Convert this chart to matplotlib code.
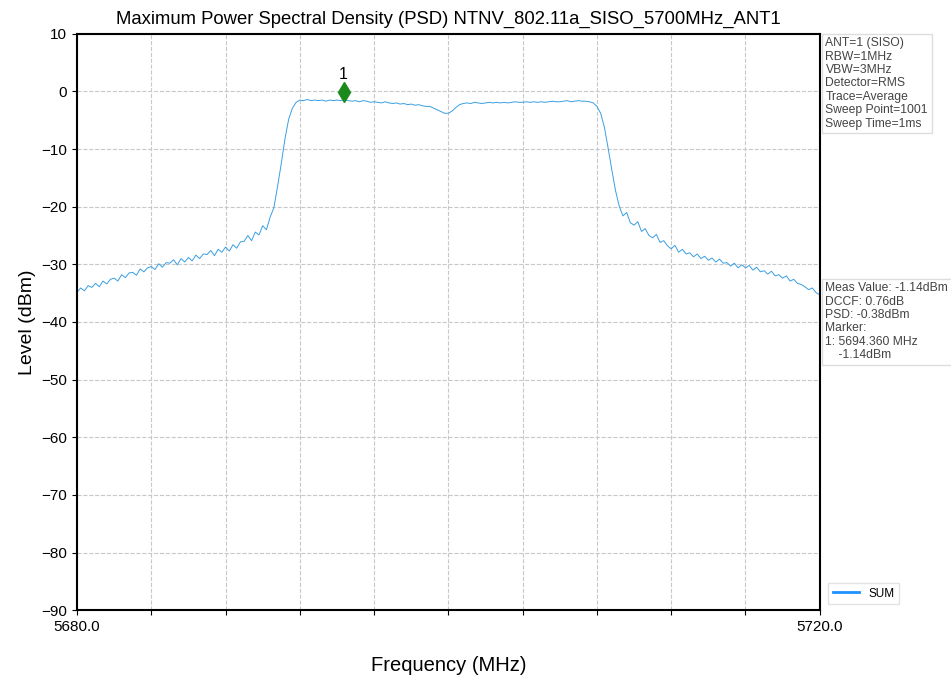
import matplotlib.pyplot as plt
import matplotlib.transforms as mtransforms
import numpy as np

plt.rcParams['font.family'] = ['Liberation Sans', 'DejaVu Sans']

# sweep 5680 - 5720 MHz, trace levels read every 0.2 MHz (dBm)
start_mhz = 5680.0
stop_mhz = 5720.0
level = [
    -34.8, -34.1, -34.6, -33.7, -34.0,
    -33.3, -33.9, -32.9, -33.4, -32.6,
    -32.4, -32.9, -31.8, -32.3, -31.5,
    -31.4, -31.9, -30.8, -31.3, -30.6,
    -30.4, -30.9, -29.9, -30.5, -29.7,
    -29.8, -29.2, -30.1, -29.0, -29.6,
    -28.8, -29.4, -28.4, -29.0, -28.2,
    -28.3, -27.6, -28.5, -27.4, -27.9,
    -27.0, -27.7, -26.6, -27.2, -26.1,
    -26.0, -25.0, -25.9, -24.4, -24.9,
    -23.3, -24.0, -21.8, -20.2, -16.5,
    -12.5, -8.2, -4.8, -2.9, -1.9,
    -1.5, -1.6, -1.4, -1.6, -1.5,
    -1.6, -1.5, -1.7, -1.5, -1.6,
    -1.5, -1.6, -1.4, -1.6, -1.7,
    -1.6, -1.8, -1.6, -1.7, -1.9,
    -1.8, -1.9, -2.0, -1.8, -2.0,
    -2.1, -2.0, -2.2, -2.1, -2.3,
    -2.2, -2.4, -2.3, -2.5, -2.6,
    -2.6, -2.9, -3.2, -3.5, -3.8,
    -3.8, -3.4, -2.8, -2.3, -2.1,
    -2.0, -2.1, -1.9, -2.0, -2.1,
    -2.0, -1.9, -2.0, -1.9, -2.0,
    -1.9, -2.0, -1.9, -1.8, -1.9,
    -1.9, -1.8, -1.9, -1.8, -1.9,
    -1.8, -1.9, -1.8, -1.7, -1.8,
    -1.8, -1.7, -1.6, -1.8, -1.7,
    -1.6, -1.7, -1.7, -1.8, -2.0,
    -2.6, -3.8, -6.2, -9.8, -13.6,
    -17.2, -19.9, -21.6, -21.0, -22.8,
    -23.2, -22.6, -24.3, -23.8, -25.0,
    -25.4, -24.8, -26.2, -25.9, -26.8,
    -27.3, -26.7, -27.9, -27.4, -28.2,
    -28.0, -28.7, -28.2, -29.0, -28.6,
    -29.3, -28.9, -29.6, -29.1, -29.8,
    -29.7, -30.3, -29.8, -30.6, -30.1,
    -30.6, -30.2, -31.0, -30.5, -31.3,
    -31.1, -31.7, -31.2, -32.0, -31.8,
    -32.4, -32.0, -32.9, -32.6, -33.3,
    -33.5, -33.9, -34.4, -34.1, -34.9,
    -35.3,
]
marker_freq = 5694.36
marker_level = -1.14

setup_text = ("ANT=1 (SISO)\nRBW=1MHz\nVBW=3MHz\nDetector=RMS\n"
              "Trace=Average\nSweep Point=1001\nSweep Time=1ms")
result_text = ("Meas Value: -1.14dBm\nDCCF: 0.76dB\nPSD: -0.38dBm\nMarker:\n"
               "1: 5694.360 MHz\n    -1.14dBm")

freq = np.linspace(start_mhz, stop_mhz, len(level))

fig = plt.figure(figsize=(9.51, 6.75), dpi=100)
ax = fig.add_axes([0.081, 0.096, 0.781, 0.854])

ax.plot(freq, level, color='#3a9fe3', lw=0.7, label='SUM')

# marker diamond sits a little above the trace point
shift = mtransforms.offset_copy(ax.transData, fig=fig, x=0, y=6, units='dots')
ax.plot(marker_freq, marker_level, marker='d', color='#1b8a1b',
        markersize=10, transform=shift)
ax.annotate('1', (marker_freq, marker_level), xytext=(0, 14),
            textcoords='offset points', ha='center', fontsize=11.5)

ax.set_xlim(start_mhz, stop_mhz)
ax.set_ylim(-90, 10)
ax.set_xticks(np.arange(5680, 5721, 4))
ax.set_xticklabels(['5680.0'] + [''] * 9 + ['5720.0'])
ax.set_yticks(np.arange(-90, 11, 10))
ax.tick_params(labelsize=11)
ax.grid(True, color='#c8c8c8', linestyle='--', linewidth=0.8)
for s in ax.spines.values():
    s.set_linewidth(1.5)

ax.set_title('Maximum Power Spectral Density (PSD) NTNV_802.11a_SISO_5700MHz_ANT1',
             fontsize=13.3, pad=7)
ax.set_xlabel('Frequency (MHz)', fontsize=14.5, labelpad=16)
ax.set_ylabel('Level (dBm)', fontsize=14)

box = dict(boxstyle='square,pad=0.3', facecolor='white', edgecolor='#dddddd')
fig.text(0.868, 0.945, setup_text, fontsize=8.7, color='#444444',
         va='top', ha='left', bbox=box, linespacing=1.16)
fig.text(0.868, 0.582, result_text, fontsize=8.7, color='#444444',
         va='top', ha='left', bbox=box, linespacing=1.16)

leg = ax.legend(loc='lower left', bbox_to_anchor=(1.003, 0.0), fontsize=8.5,
                handlelength=2.2, frameon=True, edgecolor='#dddddd',
                fancybox=False)
for h in leg.get_lines():
    h.set_linewidth(2)
    h.set_color('#1e90ff')

fig.savefig('out.png', dpi=100)
